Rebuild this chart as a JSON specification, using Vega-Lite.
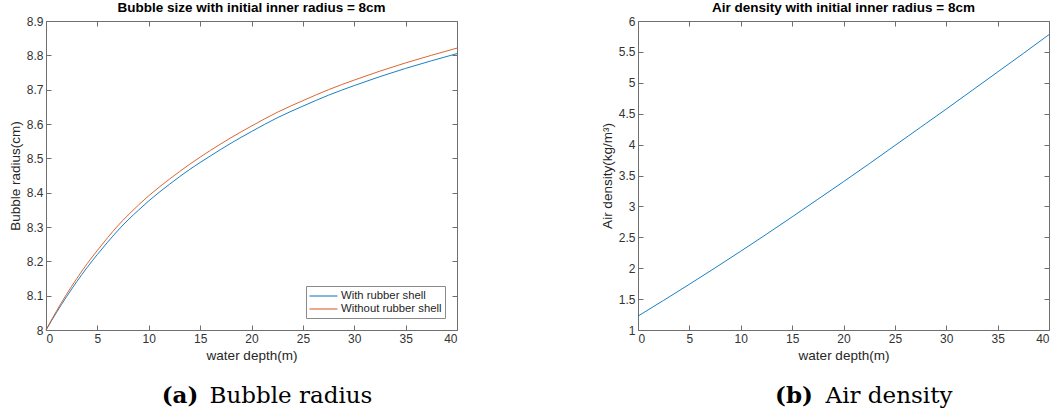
{
  "$schema": "https://vega.github.io/schema/vega-lite/v6.json",
  "background": "white",
  "padding": {"left": 8, "top": 0, "right": 0, "bottom": 0},
  "config": {
    "font": "Liberation Sans",
    "view": {"stroke": null},
    "axis": {
      "grid": false,
      "domainColor": "#6f6f6f",
      "tickColor": "#6f6f6f",
      "labelColor": "#333333",
      "titleColor": "#262626",
      "labelFont": "Liberation Sans",
      "titleFont": "Liberation Sans",
      "labelFontSize": 12,
      "titleFontSize": 13.5,
      "titleFontWeight": "normal",
      "tickSize": -5,
      "domainWidth": 1,
      "tickWidth": 1
    }
  },
  "datasets": {
    "radius": [
      {"depth": 0, "radius": 8.000, "series": "With rubber shell"},
      {"depth": 1, "radius": 8.050, "series": "With rubber shell"},
      {"depth": 2, "radius": 8.097, "series": "With rubber shell"},
      {"depth": 3, "radius": 8.141, "series": "With rubber shell"},
      {"depth": 4, "radius": 8.182, "series": "With rubber shell"},
      {"depth": 5, "radius": 8.220, "series": "With rubber shell"},
      {"depth": 6, "radius": 8.256, "series": "With rubber shell"},
      {"depth": 7, "radius": 8.290, "series": "With rubber shell"},
      {"depth": 8, "radius": 8.321, "series": "With rubber shell"},
      {"depth": 9, "radius": 8.349, "series": "With rubber shell"},
      {"depth": 10, "radius": 8.376, "series": "With rubber shell"},
      {"depth": 12, "radius": 8.424, "series": "With rubber shell"},
      {"depth": 14, "radius": 8.468, "series": "With rubber shell"},
      {"depth": 16, "radius": 8.507, "series": "With rubber shell"},
      {"depth": 18, "radius": 8.544, "series": "With rubber shell"},
      {"depth": 20, "radius": 8.578, "series": "With rubber shell"},
      {"depth": 22.5, "radius": 8.618, "series": "With rubber shell"},
      {"depth": 25, "radius": 8.652, "series": "With rubber shell"},
      {"depth": 27.5, "radius": 8.684, "series": "With rubber shell"},
      {"depth": 30, "radius": 8.712, "series": "With rubber shell"},
      {"depth": 32.5, "radius": 8.738, "series": "With rubber shell"},
      {"depth": 35, "radius": 8.762, "series": "With rubber shell"},
      {"depth": 37.5, "radius": 8.784, "series": "With rubber shell"},
      {"depth": 40, "radius": 8.805, "series": "With rubber shell"},
      {"depth": 0, "radius": 8.000, "series": "Without rubber shell"},
      {"depth": 1, "radius": 8.054, "series": "Without rubber shell"},
      {"depth": 2, "radius": 8.104, "series": "Without rubber shell"},
      {"depth": 3, "radius": 8.150, "series": "Without rubber shell"},
      {"depth": 4, "radius": 8.193, "series": "Without rubber shell"},
      {"depth": 5, "radius": 8.232, "series": "Without rubber shell"},
      {"depth": 6, "radius": 8.269, "series": "Without rubber shell"},
      {"depth": 7, "radius": 8.304, "series": "Without rubber shell"},
      {"depth": 8, "radius": 8.335, "series": "Without rubber shell"},
      {"depth": 9, "radius": 8.364, "series": "Without rubber shell"},
      {"depth": 10, "radius": 8.391, "series": "Without rubber shell"},
      {"depth": 12, "radius": 8.439, "series": "Without rubber shell"},
      {"depth": 14, "radius": 8.483, "series": "Without rubber shell"},
      {"depth": 16, "radius": 8.523, "series": "Without rubber shell"},
      {"depth": 18, "radius": 8.560, "series": "Without rubber shell"},
      {"depth": 20, "radius": 8.594, "series": "Without rubber shell"},
      {"depth": 22.5, "radius": 8.634, "series": "Without rubber shell"},
      {"depth": 25, "radius": 8.668, "series": "Without rubber shell"},
      {"depth": 27.5, "radius": 8.700, "series": "Without rubber shell"},
      {"depth": 30, "radius": 8.728, "series": "Without rubber shell"},
      {"depth": 32.5, "radius": 8.754, "series": "Without rubber shell"},
      {"depth": 35, "radius": 8.778, "series": "Without rubber shell"},
      {"depth": 37.5, "radius": 8.800, "series": "Without rubber shell"},
      {"depth": 40, "radius": 8.821, "series": "Without rubber shell"}
    ],
    "density": [
      {"depth": 0, "density": 1.225},
      {"depth": 2.5, "density": 1.480},
      {"depth": 5, "density": 1.740},
      {"depth": 7.5, "density": 2.005},
      {"depth": 10, "density": 2.275},
      {"depth": 12.5, "density": 2.550},
      {"depth": 15, "density": 2.830},
      {"depth": 17.5, "density": 3.115},
      {"depth": 20, "density": 3.400},
      {"depth": 22.5, "density": 3.690},
      {"depth": 25, "density": 3.985},
      {"depth": 27.5, "density": 4.280},
      {"depth": 30, "density": 4.575},
      {"depth": 32.5, "density": 4.875},
      {"depth": 35, "density": 5.175},
      {"depth": 37.5, "density": 5.475},
      {"depth": 40, "density": 5.780}
    ]
  },
  "spacing": 141,
  "resolve": {"scale": {"color": "independent"}, "legend": {"color": "independent"}},
  "hconcat": [
    {
      "title": {"text": "(a)", "orient": "bottom", "anchor": "middle", "frame": "group", "font": "DejaVu Serif", "fontSize": 23, "fontWeight": "bold", "color": "black", "offset": 0, "dx": 134, "dy": -23},
      "resolve": {"scale": {"color": "independent"}, "legend": {"color": "independent"}},
      "vconcat": [
        {
          "title": {"text": "Bubble radius", "orient": "bottom", "anchor": "middle", "frame": "group", "font": "DejaVu Serif", "fontSize": 23, "fontWeight": "normal", "color": "black", "offset": 23, "dx": 245},
          "resolve": {"scale": {"color": "independent"}, "legend": {"color": "independent"}},
          "vconcat": [
            {
              "width": 411,
              "height": 309,
              "title": {"text": "Bubble size with initial inner radius = 8cm", "anchor": "middle", "frame": "group", "fontSize": 13.5, "fontWeight": "bold", "color": "black", "offset": 1},
              "resolve": {"axis": {"x": "independent", "y": "independent"}},
              "layer": [
                {
                  "data": {"name": "radius"},
                  "mark": {"type": "line", "strokeWidth": 0.9, "interpolate": "monotone"},
                  "encoding": {
                    "x": {"field": "depth", "type": "quantitative", "scale": {"domain": [0, 40], "nice": false},
                      "axis": {"orient": "bottom", "title": "water depth(m)", "values": [0, 5, 10, 15, 20, 25, 30, 35, 40], "labelPadding": 8, "titlePadding": 4}},
                    "y": {"field": "radius", "type": "quantitative", "scale": {"domain": [8, 8.9], "nice": false, "zero": false},
                      "axis": {"orient": "left", "title": "Bubble radius(cm)", "values": [8, 8.1, 8.2, 8.3, 8.4, 8.5, 8.6, 8.7, 8.8, 8.9], "format": ".1~f", "labelPadding": 8, "titlePadding": 4}},
                    "color": {"field": "series", "type": "nominal",
                      "scale": {"domain": ["With rubber shell", "Without rubber shell"], "range": ["#0072BD", "#D95319"]},
                      "legend": {"title": null, "orient": "bottom-right", "offset": 12, "fillColor": "white", "strokeColor": "#8a8a8a", "padding": 3, "symbolType": "M-1,0L3.3,0", "symbolSize": 169, "symbolStrokeWidth": 1, "symbolOpacity": 1, "labelFontSize": 11.3, "labelFont": "Liberation Sans", "labelColor": "#262626", "rowPadding": 0, "labelOffset": 18}}
                  }
                },
                {
                  "data": {"name": "radius"},
                  "mark": {"type": "line", "opacity": 0},
                  "encoding": {
                    "x": {"field": "depth", "type": "quantitative", "axis": {"orient": "top", "labels": false, "title": null, "values": [0, 5, 10, 15, 20, 25, 30, 35, 40]}},
                    "y": {"field": "radius", "type": "quantitative", "axis": {"orient": "right", "labels": false, "title": null, "values": [8, 8.1, 8.2, 8.3, 8.4, 8.5, 8.6, 8.7, 8.8, 8.9]}}
                  }
                }
              ]
            }
          ]
        }
      ]
    },
    {
      "title": {"text": "(b)", "orient": "bottom", "anchor": "middle", "frame": "group", "font": "DejaVu Serif", "fontSize": 23, "fontWeight": "bold", "color": "black", "offset": 0, "dx": 156, "dy": -23},
      "vconcat": [
        {
          "title": {"text": "Air density", "orient": "bottom", "anchor": "middle", "frame": "group", "font": "DejaVu Serif", "fontSize": 23, "fontWeight": "normal", "color": "black", "offset": 23, "dx": 251},
          "vconcat": [
            {
              "width": 411,
              "height": 309,
              "title": {"text": "Air density with initial inner radius = 8cm", "anchor": "middle", "frame": "group", "fontSize": 13.5, "fontWeight": "bold", "color": "black", "offset": 1},
              "resolve": {"axis": {"x": "independent", "y": "independent"}},
              "layer": [
                {
                  "data": {"name": "density"},
                  "mark": {"type": "line", "strokeWidth": 0.9, "color": "#0072BD", "interpolate": "monotone"},
                  "encoding": {
                    "x": {"field": "depth", "type": "quantitative", "scale": {"domain": [0, 40], "nice": false},
                      "axis": {"orient": "bottom", "title": "water depth(m)", "values": [0, 5, 10, 15, 20, 25, 30, 35, 40], "labelPadding": 8, "titlePadding": 4}},
                    "y": {"field": "density", "type": "quantitative", "scale": {"domain": [1, 6], "nice": false, "zero": false},
                      "axis": {"orient": "left", "title": "Air density(kg/m³)", "values": [1, 1.5, 2, 2.5, 3, 3.5, 4, 4.5, 5, 5.5, 6], "format": ".1~f", "labelPadding": 8, "titlePadding": 4}}
                  }
                },
                {
                  "data": {"name": "density"},
                  "mark": {"type": "line", "opacity": 0},
                  "encoding": {
                    "x": {"field": "depth", "type": "quantitative", "axis": {"orient": "top", "labels": false, "title": null, "values": [0, 5, 10, 15, 20, 25, 30, 35, 40]}},
                    "y": {"field": "density", "type": "quantitative", "axis": {"orient": "right", "labels": false, "title": null, "values": [1, 1.5, 2, 2.5, 3, 3.5, 4, 4.5, 5, 5.5, 6]}}
                  }
                }
              ]
            }
          ]
        }
      ]
    }
  ]
}
